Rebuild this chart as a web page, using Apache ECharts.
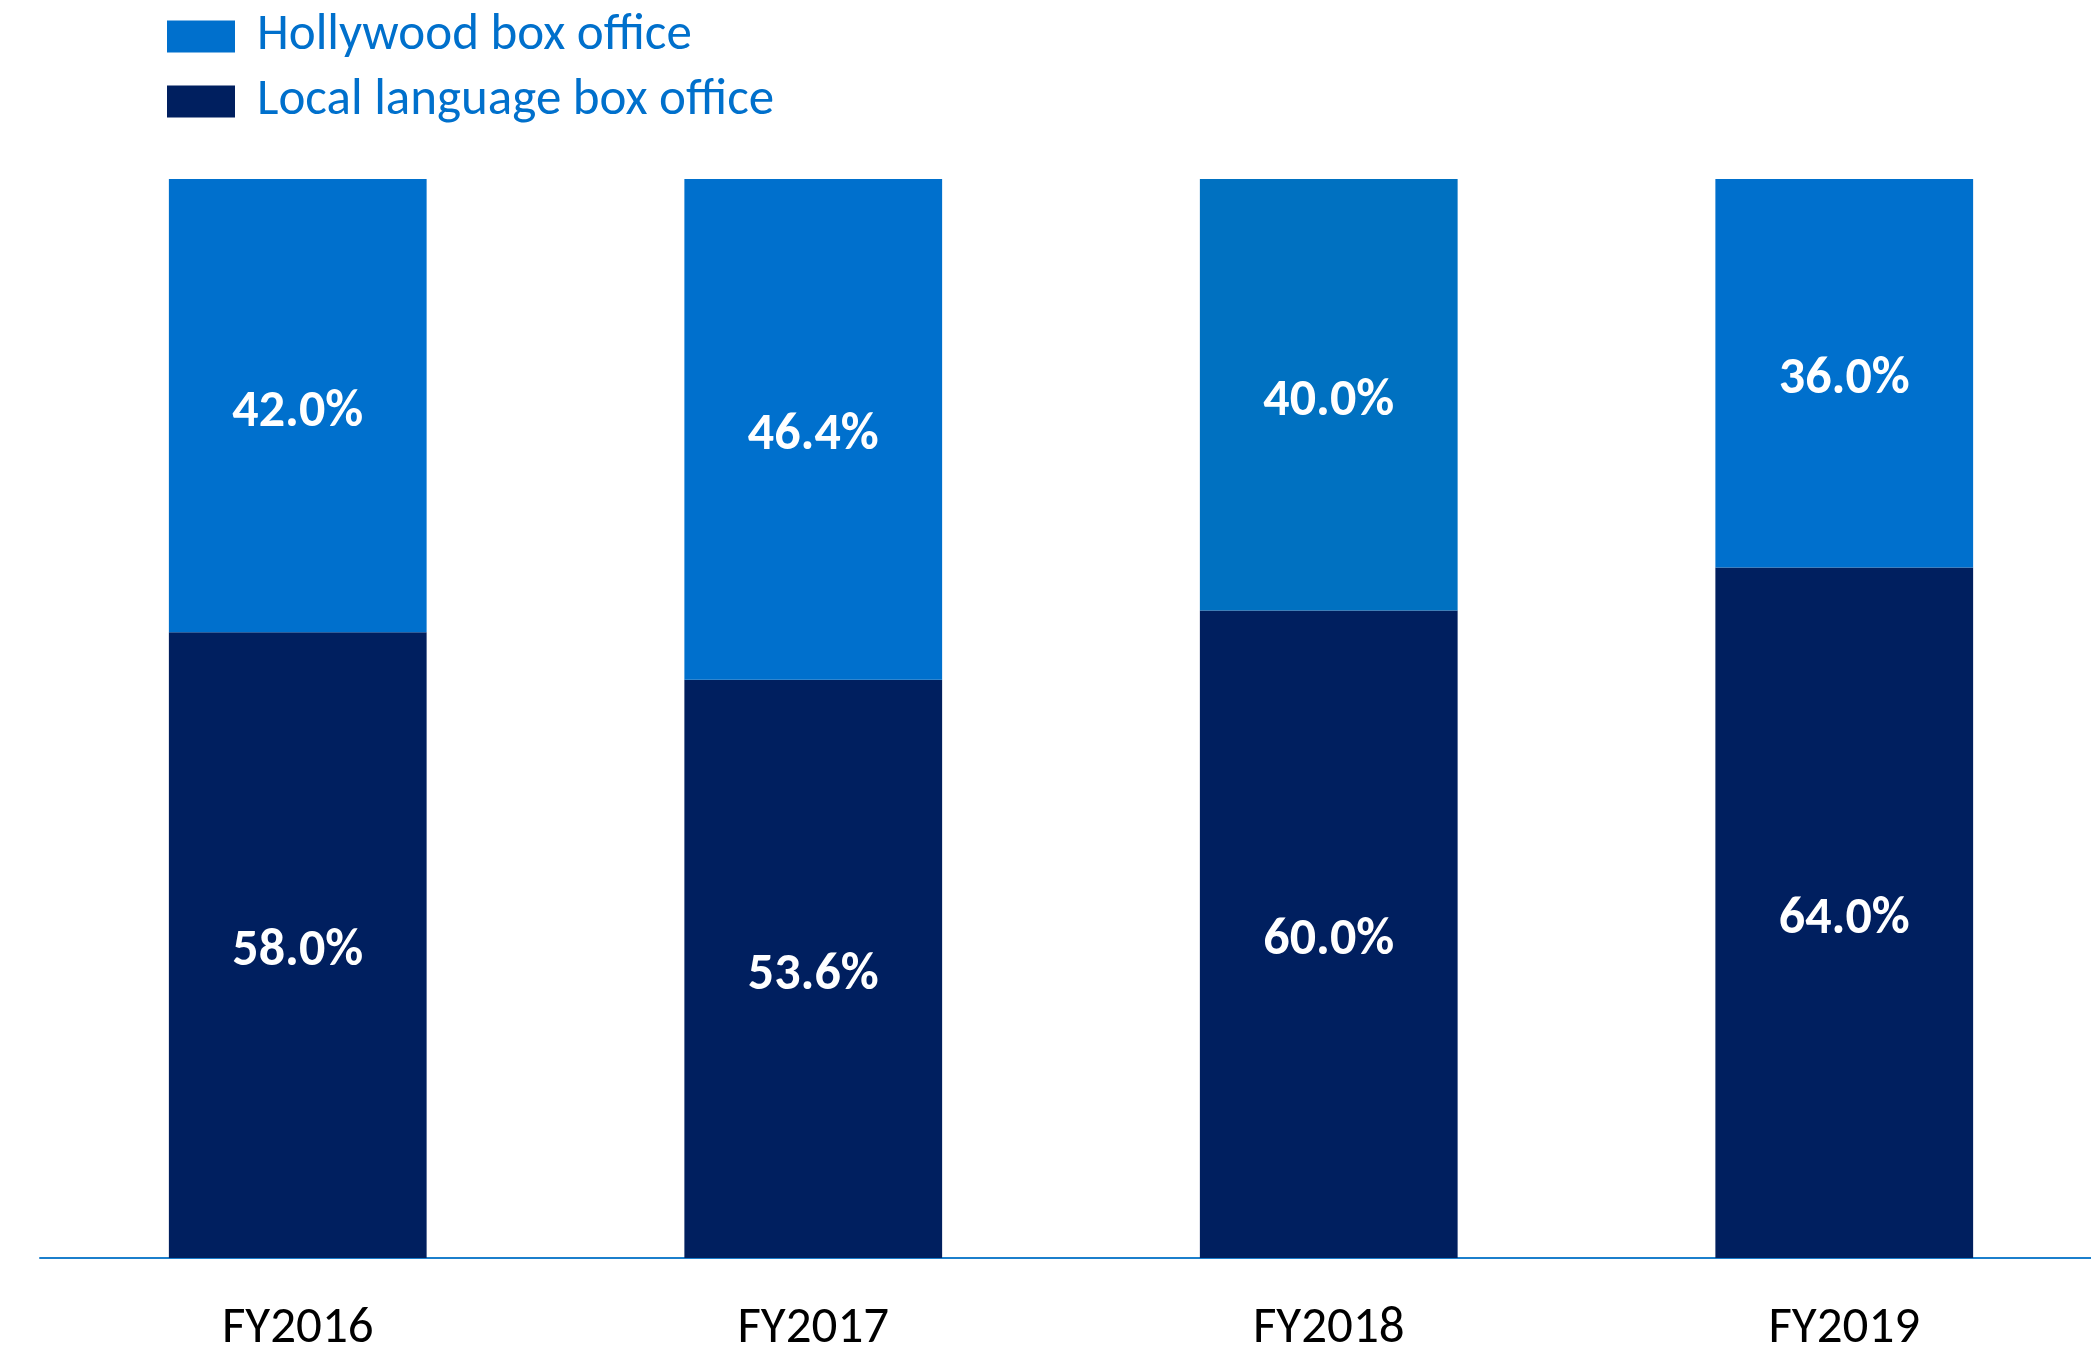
<!DOCTYPE html>
<html>
<head>
<meta charset="utf-8">
<script src="https://cdn.jsdelivr.net/npm/echarts@6/dist/echarts.min.js"></script>
<style>
html,body{margin:0;padding:0;background:#fff;overflow:hidden;}
#chart{width:2110px;height:1355px;}
</style>
</head>
<body>
<div id="chart"></div>
<script>
var categories = ['FY2016', 'FY2017', 'FY2018', 'FY2019'];
var localValues = [58.0, 53.6, 60.0, 64.0];
var hollywoodValues = [42.0, 46.4, 40.0, 36.0];
var seriesNames = ['Hollywood box office', 'Local language box office'];

var FONT = 'Carlito, Lato, "Open Sans", sans-serif';
var hollyColors = ['#0070cd', '#0070cd', '#0071c1', '#0070cd'];

var chart = echarts.init(document.getElementById('chart'));
chart.setOption({
  animation: false,
  backgroundColor: '#ffffff',
  legend: {
    orient: 'vertical',
    left: 162,
    top: 6,
    itemWidth: 68,
    itemHeight: 32,
    itemGap: 14,
    icon: 'rect',
    data: [seriesNames[0], seriesNames[1]],
    textStyle: { color: '#0070cc', fontSize: 51, fontFamily: FONT, padding: [0, 0, 0, 17] }
  },
  grid: { left: 40, width: 2062, top: 179, bottom: 95, containLabel: false },
  xAxis: {
    type: 'category',
    data: categories,
    axisLine: { show: true, lineStyle: { color: '#1b7fcc', width: 2 } },
    axisTick: { show: false },
    axisLabel: { color: '#000000', fontSize: 51, fontFamily: FONT, margin: 46 }
  },
  yAxis: {
    type: 'value',
    min: 0,
    max: 100,
    show: false,
    splitLine: { show: false }
  },
  series: [
    {
      name: seriesNames[1],
      type: 'bar',
      stack: 'total',
      barWidth: '50%',
      data: localValues,
      itemStyle: { color: '#001f5f' },
      label: {
        show: true, position: 'inside', offset: [0, 7], color: '#ffffff', fontWeight: 'bold',
        fontSize: 52, fontFamily: FONT,
        formatter: function (p) { return p.value.toFixed(1) + '%'; }
      }
    },
    {
      name: seriesNames[0],
      type: 'bar',
      stack: 'total',
      barWidth: '50%',
      data: hollywoodValues.map(function (v, i) { return { value: v, itemStyle: { color: hollyColors[i] } }; }),
      itemStyle: { color: '#0070cd' },
      label: {
        show: true, position: 'inside', offset: [0, 7], color: '#ffffff', fontWeight: 'bold',
        fontSize: 52, fontFamily: FONT,
        formatter: function (p) { return p.value.toFixed(1) + '%'; }
      }
    }
  ]
});
</script>
</body>
</html>
